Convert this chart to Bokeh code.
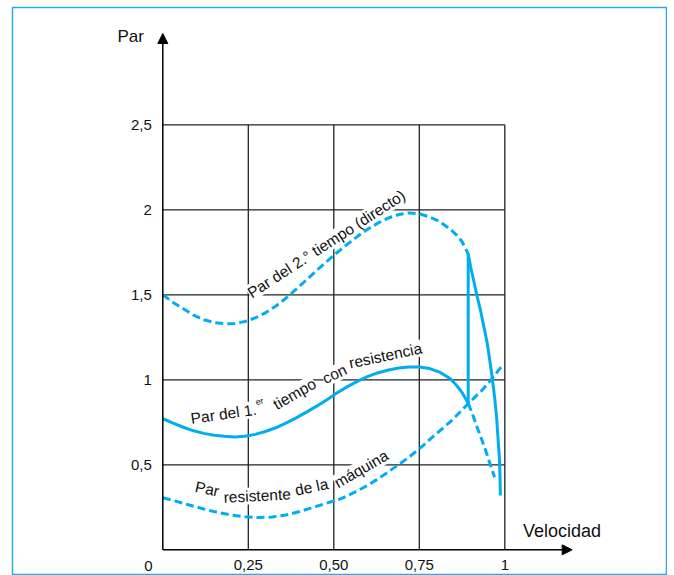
from bokeh.plotting import figure
from bokeh.models import Arrow, NormalHead, FixedTicker, ColumnDataSource
from bokeh.core.properties import value
from bokeh.embed import file_html
from bokeh.resources import INLINE

FONT = "Liberation Sans"
CYAN = "#00aeef"

# ---- data ----
x_ticks = [0.25, 0.5, 0.75, 1.0]
x_tick_labels = ["0,25", "0,50", "0,75", "1"]
y_ticks = [0.5, 1.0, 1.5, 2.0, 2.5]
y_tick_labels = ["0,5", "1", "1,5", "2", "2,5"]

# Par del 2.º tiempo (directo) - dashed part
t2_x = [0.0, 0.03, 0.06, 0.09, 0.12, 0.15, 0.18, 0.21, 0.24, 0.27, 0.30, 0.33,
        0.36, 0.39, 0.42, 0.45, 0.48, 0.51, 0.54, 0.57, 0.60, 0.63, 0.66, 0.69,
        0.72, 0.75, 0.78, 0.81, 0.84, 0.86, 0.875, 0.893]
t2_y = [1.500, 1.455, 1.418, 1.380, 1.353, 1.337, 1.330, 1.331, 1.343, 1.364, 1.394, 1.433,
        1.480, 1.533, 1.588, 1.643, 1.697, 1.749, 1.798, 1.845, 1.887, 1.923, 1.952, 1.972,
        1.982, 1.977, 1.958, 1.930, 1.887, 1.850, 1.812, 1.741]
# solid continuation of the 2.º tiempo curve
t2s_x = [0.893, 0.900, 0.909, 0.918, 0.929, 0.939, 0.949, 0.956, 0.963, 0.970,
         0.976, 0.980, 0.984, 0.986, 0.987]
t2s_y = [1.741, 1.665, 1.584, 1.500, 1.408, 1.310, 1.211, 1.115, 1.015, 0.900,
         0.780, 0.660, 0.545, 0.430, 0.319]
# switching jump
sw_x = [0.893, 0.893]
sw_y = [0.862, 1.741]

# Par del 1.er tiempo con resistencia - solid part
t1_x = [0.0, 0.03, 0.06, 0.09, 0.12, 0.15, 0.18, 0.21, 0.24, 0.27, 0.30, 0.33,
        0.36, 0.39, 0.42, 0.45, 0.48, 0.51, 0.54, 0.57, 0.60, 0.63, 0.66, 0.69,
        0.72, 0.75, 0.78, 0.81, 0.84, 0.86, 0.875, 0.893]
t1_y = [0.771, 0.745, 0.721, 0.700, 0.685, 0.674, 0.668, 0.664, 0.668, 0.679, 0.696, 0.718,
        0.745, 0.776, 0.810, 0.845, 0.883, 0.924, 0.960, 0.992, 1.020, 1.042, 1.058, 1.069,
        1.076, 1.076, 1.066, 1.045, 1.008, 0.965, 0.925, 0.862]
# dashed continuation of the 1.er tiempo curve
t1d_x = [0.893, 0.907, 0.919, 0.932, 0.944, 0.957, 0.970]
t1d_y = [0.862, 0.790, 0.721, 0.652, 0.584, 0.505, 0.427]

# Par resistente de la máquina - dashed
r_x = [0.0, 0.04, 0.08, 0.12, 0.16, 0.20, 0.24, 0.28, 0.32, 0.36, 0.40, 0.44,
       0.48, 0.52, 0.56, 0.60, 0.64, 0.68, 0.72, 0.76, 0.80, 0.84, 0.87, 0.893,
       0.93, 0.96, 0.99]
r_y = [0.306, 0.285, 0.262, 0.240, 0.220, 0.205, 0.195, 0.190, 0.193, 0.205, 0.225, 0.250,
       0.275, 0.300, 0.338, 0.380, 0.432, 0.488, 0.545, 0.612, 0.683, 0.752, 0.812, 0.860,
       0.932, 1.000, 1.078]

# curve labels (word, x, y, angle in degrees, font size)
lab_words = ["Par del 2.° tiempo (directo)",
             "Par del 1.", "er", "tiempo", "con", "resistencia",
             "Par", "resistente", "de la", "máquina"]
lab_x = [0.478, 0.178, 0.283, 0.385, 0.502, 0.651, 0.130, 0.276, 0.435, 0.580]
lab_y = [1.80, 0.80, 0.874, 0.918, 1.035, 1.143, 0.359, 0.319, 0.370, 0.476]
lab_a = [33, 8, 15, 30, 25, 12, -12, 3, 12, 30]
lab_s = ["15.5px", "15.5px", "9px", "15.5px", "15.5px", "15.5px",
         "15.5px", "15.5px", "15.5px", "15.5px"]

p = figure(width=667, height=575, output_backend="svg", toolbar_location=None,
           x_range=(-0.4395, 1.4757), y_range=(-0.151, 3.19),
           min_border_left=12, min_border_right=0, min_border_top=7, min_border_bottom=0)
p.outline_line_color = "#29abe2"
p.outline_line_width = 1.5
p.xgrid.visible = False
p.ygrid.visible = False
p.background_fill_color = "white"

# axes placed at the origin
p.xaxis.fixed_location = 0
p.yaxis.fixed_location = 0
p.xaxis.ticker = FixedTicker(ticks=x_ticks)
p.yaxis.ticker = FixedTicker(ticks=y_ticks)
p.xaxis.major_label_overrides = dict(zip(x_ticks, x_tick_labels))
p.yaxis.major_label_overrides = dict(zip(y_ticks, y_tick_labels))
for ax in (p.xaxis, p.yaxis):
    ax.axis_line_color = None
    ax.major_tick_line_color = None
    ax.minor_tick_line_color = None
    ax.major_tick_out = 0
    ax.major_tick_in = 0
    ax.major_label_text_font = FONT
    ax.major_label_text_font_size = "15px"
    ax.major_label_text_color = "#111111"
p.xaxis.major_label_standoff = 10
p.yaxis.major_label_standoff = 11

# grid limited to 0..1 x 0..2.5
top = y_ticks[-1]
right = x_ticks[-1]
p.segment(x0=x_ticks, y0=[0] * len(x_ticks), x1=x_ticks, y1=[top] * len(x_ticks),
          line_color="#222222", line_width=1.3)
p.segment(x0=[0] * len(y_ticks), y0=y_ticks, x1=[right] * len(y_ticks), y1=y_ticks,
          line_color="#222222", line_width=1.3)

# curve labels with white backing (hides grid behind)
src = ColumnDataSource(dict(t=lab_words, x=lab_x, y=lab_y, a=lab_a, s=lab_s))
p.text(x="x", y="y", text="t", angle="a", angle_units="deg", source=src,
       text_font=value(FONT), text_font_size="s", text_color="#111111",
       text_align="center", text_baseline="middle",
       background_fill_color="white")

# axes arrows
p.add_layout(Arrow(end=NormalHead(size=10, fill_color="black", line_color="black"),
                   x_start=0, y_start=0, x_end=0, y_end=3.037,
                   line_width=1.5, line_color="black"))
p.add_layout(Arrow(end=NormalHead(size=10, fill_color="black", line_color="black"),
                   x_start=0, y_start=0, x_end=1.197, y_end=0,
                   line_width=1.5, line_color="black"))

# curves
p.line(t2_x, t2_y, line_color=CYAN, line_width=3, line_dash="8 4")
p.line(t2s_x, t2s_y, line_color=CYAN, line_width=3)
p.line(sw_x, sw_y, line_color=CYAN, line_width=3)
p.line(t1_x, t1_y, line_color=CYAN, line_width=3)
p.line(t1d_x, t1d_y, line_color=CYAN, line_width=3, line_dash="8 4")
p.line(r_x, r_y, line_color=CYAN, line_width=3, line_dash="8 4")

# axis titles and origin label
p.text(x=[-0.094], y=[3.022], text=["Par"], text_font=value(FONT), text_font_size="17px",
       text_color="#111111", text_align="center", text_baseline="middle")
p.text(x=[1.167], y=[0.11], text=["Velocidad"], text_font=value(FONT), text_font_size="18px",
       text_color="#111111", text_align="center", text_baseline="middle")
p.text(x=[-0.042], y=[-0.098], text=["0"], text_font=value(FONT), text_font_size="15px",
       text_color="#111111", text_align="center", text_baseline="middle")

open("out.html", "w").write(file_html(p, INLINE))
